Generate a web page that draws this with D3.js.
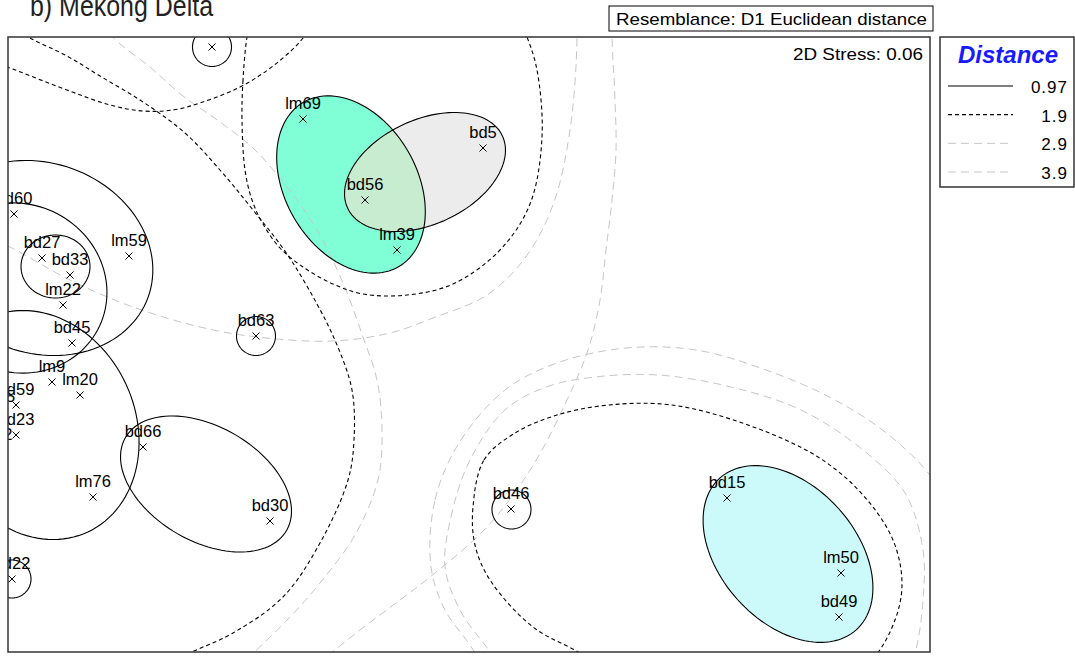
<!DOCTYPE html>
<html>
<head>
<meta charset="utf-8">
<script src="https://cdn.jsdelivr.net/npm/d3@7"></script>
<style>
  body { margin: 0; background: #fff; }
  text { font-family: "Liberation Sans", Arial, sans-serif; }
</style>
</head>
<body>
<div id="chart"></div>
<script>
// nMDS of samples, with cluster contours at 4 distance levels

// samples (MDS coordinates)
const pointNames = ["lm47","lm69","bd5","bd56","lm39","bd60","bd27","bd33","lm59","lm22","bd45","bd63",
  "lm9","lm20","bd59","lm5","bd23","bd32","bd66","lm76","bd30","bd22","bd46","bd15","lm50","bd49"];
const pointX = [-2.57,-1.66,0.14,-1.04,-0.72,-4.55,-4.27,-3.99,-3.40,-4.06,-3.97,-2.13,
  -4.17,-3.89,-4.53,-4.67,-4.53,-4.75,-3.26,-3.76,-1.99,-4.57,0.42,2.58,3.72,3.70];
const pointY = [2.98,2.26,1.97,1.45,0.95,1.31,0.87,0.70,0.89,0.40,0.02,0.09,
  -0.37,-0.50,-0.60,-0.67,-0.90,-1.05,-1.02,-1.52,-1.76,-2.34,-1.64,-1.53,-2.28,-2.72];

// clusters at the 0.97 level, as ellipses
const ellNames = ["c47","g69","g5","c27","e59","e60","e76","e66","c63","c46","c22","e15"];
const ellCx  = [-2.57,-1.18,-0.44,-4.135,-4.29,-4.51,-4.31,-2.63,-2.13,0.425,-4.57,3.19];
const ellCy  = [2.98,1.605,1.73,0.785,0.87,0.57,-0.80,-1.39,0.09,-1.645,-2.34,-2.09];
const ellA   = [0.195,0.95,0.854,0.345,1.15,0.90,0.97,0.93,0.195,0.195,0.19,1.02];
const ellB   = [0.195,0.66,0.522,0.315,0.95,0.84,1.18,0.573,0.195,0.195,0.19,0.68];
const ellRot = [0,-60,25,0,-20,-25,25,-30,0,0,0,-48];

// larger contours (1.9, 2.9, 3.9 levels)
const dashTopLeft = [[-5.09,2.95],[-4.59,2.77],[-4.02,2.55],[-3.59,2.40],[-3.26,2.34],[-2.96,2.35],
  [-2.69,2.42],[-2.29,2.58],[-1.96,2.79],[-1.66,3.07],[-1.44,3.45]];
const dashLeft = [[-4.69,3.25],[-4.39,3.07],[-4.02,2.89],[-3.69,2.69],[-3.26,2.43],[-2.84,2.12],
  [-2.49,1.75],[-2.16,1.35],[-1.82,0.91],[-1.52,0.41],[-1.32,0.00],[-1.17,-0.45],[-1.15,-0.95],
  [-1.21,-1.35],[-1.49,-1.98],[-1.86,-2.52],[-2.36,-2.88],[-2.79,-3.08],[-3.29,-3.35]];
const dashUpper = [[-2.22,3.08],[-2.26,2.65],[-2.27,2.25],[-2.24,1.75],[-2.17,1.45],[-2.06,1.21],
  [-1.89,0.97],[-1.66,0.78],[-1.36,0.61],[-1.06,0.51],[-0.62,0.50],[-0.16,0.61],[0.31,0.95],
  [0.61,1.41],[0.73,2.08],[0.68,2.75],[0.58,3.08],[0.41,3.45],[-0.69,3.75],[-1.79,3.65],[-2.14,3.45]];
const dashLower = [[0.04,-1.62],[0.15,-1.15],[0.46,-0.88],[0.88,-0.70],[1.40,-0.60],[2.03,-0.60],
  [2.79,-0.80],[3.49,-1.12],[3.94,-1.50],[4.24,-1.95],[4.33,-2.38],[4.26,-2.75],[4.03,-3.15],
  [3.51,-3.55],[2.51,-3.70],[1.51,-3.35],[1.11,-3.08],[0.64,-2.82],[0.21,-2.35],[0.06,-2.00]];
const grayLeft = [[-3.79,3.45],[-3.56,3.08],[-3.19,2.78],[-2.86,2.49],[-2.49,2.23],[-2.16,1.97],
  [-1.82,1.58],[-1.52,1.15],[-1.26,0.62],[-1.06,0.08],[-0.92,-0.35],[-0.87,-0.85],[-0.91,-1.35],
  [-1.14,-1.90],[-1.49,-2.38],[-1.79,-2.72],[-2.16,-3.08],[-2.49,-3.35]];
const grayUpper = [[-5.09,1.20],[-4.61,0.99],[-3.99,0.65],[-3.36,0.38],[-2.69,0.18],[-2.12,0.08],
  [-1.36,0.04],[-0.79,0.12],[-0.36,0.27],[0.18,0.50],[0.56,0.87],[0.84,1.40],[1.01,2.15],
  [1.08,3.08],[1.06,3.45]];
const grayUpperOuter = [[1.43,3.45],[1.43,3.08],[1.46,2.45],[1.47,1.95],[1.43,1.45],[1.37,0.95],
  [1.31,0.45],[1.19,-0.05],[0.98,-0.55],[0.63,-1.22],[0.18,-1.82],[-0.34,-2.28],[-0.69,-2.55],
  [-1.09,-2.85],[-1.49,-3.17]];
const grayLower = [[-0.24,-2.22],[-0.18,-1.72],[0.01,-1.15],[0.36,-0.65],[0.77,-0.42],[1.26,-0.32],
  [1.89,-0.30],[2.62,-0.42],[3.32,-0.65],[3.94,-1.05],[4.36,-1.48],[4.54,-2.05],[4.54,-2.55],
  [4.47,-3.05],[4.31,-3.55],[2.31,-4.25],[0.71,-3.65],[0.16,-3.00],[-0.09,-2.65]];
const grayLowerOuter = [[-0.38,-2.22],[-0.34,-1.55],[-0.10,-0.98],[0.36,-0.45],[0.88,-0.18],
  [1.57,-0.03],[2.27,-0.05],[2.97,-0.25],[3.66,-0.55],[4.26,-0.95],[4.71,-1.45],[5.11,-2.55],
  [4.91,-3.75],[2.31,-4.65],[0.51,-3.75],[0.01,-3.00],[-0.24,-2.65]];

const distLevels = ["0.97","1.9","2.9","3.9"];

const width = 1075, height = 656,
    plot = ({ left: 8, top: 37, right: 930, bottom: 652 });

const svg = d3.select("#chart")
  .append("svg")
  .attr("width", width)
  .attr("height", height);

const x = d3.scaleLinear().domain([-4.61, 4.61]).range([plot.left, plot.right]);
const y = d3.scaleLinear().domain([-3.07, 3.08]).range([plot.bottom, plot.top]);

const styles = {
  "0.97": { stroke: "#000", dash: null, w: 1.1 },
  "1.9":  { stroke: "#000", dash: "4,3", w: 1.1 },
  "2.9":  { stroke: "#c6c6c6", dash: "8,5", w: 1 },
  "3.9":  { stroke: "#c6c6c6", dash: "8,5", w: 1 }
};
const fills = { g69: "#80ffd6", g5: "#ececec", e15: "#ccfafa" };

const defs = svg.append("defs");
defs.append("clipPath").attr("id", "plotclip")
  .append("rect")
  .attr("x", plot.left).attr("y", plot.top)
  .attr("width", plot.right - plot.left).attr("height", plot.bottom - plot.top);

const g = svg.append("g").attr("clip-path", "url(#plotclip)");

// ellipse outline points in data units
function ellipsePts(i) {
  const r = ellRot[i] * Math.PI / 180;
  return d3.range(0, 360, 3).map(deg => {
    const t = deg * Math.PI / 180;
    const u = ellA[i] * Math.cos(t), v = ellB[i] * Math.sin(t);
    return [ellCx[i] + u * Math.cos(r) - v * Math.sin(r),
            ellCy[i] + u * Math.sin(r) + v * Math.cos(r)];
  });
}

const closedLine = d3.line().x(d => x(d[0])).y(d => y(d[1])).curve(d3.curveLinearClosed);
const smoothClosed = d3.line().x(d => x(d[0])).y(d => y(d[1])).curve(d3.curveCatmullRomClosed);
const smoothOpen = d3.line().x(d => x(d[0])).y(d => y(d[1])).curve(d3.curveCatmullRom);

function drawContour(d, level, closed) {
  const s = styles[level];
  g.append("path")
    .attr("d", closed ? smoothClosed(d) : smoothOpen(d))
    .attr("fill", "none")
    .attr("stroke", s.stroke)
    .attr("stroke-width", s.w)
    .attr("stroke-dasharray", s.dash);
}

// fills first
ellNames.forEach((n, i) => {
  if (fills[n]) {
    g.append("path").attr("d", closedLine(ellipsePts(i))).attr("fill", fills[n]);
  }
});
// overlap of the two upper groups
const iGreen = ellNames.indexOf("g69"), iGray = ellNames.indexOf("g5");
defs.append("clipPath").attr("id", "greenclip")
  .append("path").attr("d", closedLine(ellipsePts(iGreen)));
g.append("path")
  .attr("d", closedLine(ellipsePts(iGray)))
  .attr("fill", "#c7ecd0")
  .attr("clip-path", "url(#greenclip)");

// gray contours
drawContour(grayLeft, "2.9", false);
drawContour(grayUpper, "2.9", false);
drawContour(grayUpperOuter, "3.9", false);
drawContour(grayLower, "2.9", true);
drawContour(grayLowerOuter, "3.9", true);

// dashed contours
drawContour(dashTopLeft, "1.9", false);
drawContour(dashLeft, "1.9", false);
drawContour(dashUpper, "1.9", true);
drawContour(dashLower, "1.9", true);

// solid outlines
ellNames.forEach((n, i) => {
  g.append("path")
    .attr("d", closedLine(ellipsePts(i)))
    .attr("fill", "none")
    .attr("stroke", "#000")
    .attr("stroke-width", styles["0.97"].w);
});

// sample marks and labels
const pts = pointNames.map((n, i) => ({ name: n, x: pointX[i], y: pointY[i] }));
const mark = g.selectAll("g.pt").data(pts).join("g")
  .attr("class", "pt")
  .attr("transform", d => `translate(${x(d.x)},${y(d.y)})`);
mark.append("path")
  .attr("d", "M-3.5,-3.5L3.5,3.5M-3.5,3.5L3.5,-3.5")
  .attr("stroke", "#000")
  .attr("stroke-width", 1);
mark.append("text")
  .attr("y", -10)
  .attr("text-anchor", "middle")
  .attr("font-size", 16.5)
  .text(d => d.name);

// frame
svg.append("rect")
  .attr("x", plot.left).attr("y", plot.top)
  .attr("width", plot.right - plot.left).attr("height", plot.bottom - plot.top)
  .attr("fill", "none").attr("stroke", "#333").attr("stroke-width", 1.5);

svg.append("text")
  .attr("x", 923).attr("y", 60)
  .attr("text-anchor", "end")
  .attr("font-size", 17)
  .attr("textLength", 130)
  .attr("lengthAdjust", "spacingAndGlyphs")
  .text("2D Stress: 0.06");

// resemblance box
svg.append("rect")
  .attr("x", 609).attr("y", 6).attr("width", 324).attr("height", 25)
  .attr("fill", "#fff").attr("stroke", "#000").attr("stroke-width", 1);
svg.append("text")
  .attr("x", 616).attr("y", 25)
  .attr("font-size", 17)
  .attr("textLength", 311)
  .attr("lengthAdjust", "spacingAndGlyphs")
  .text("Resemblance: D1 Euclidean distance");

// title (cut off at the top in the source)
svg.append("text")
  .attr("x", 30).attr("y", 16)
  .attr("font-family", "Carlito, 'Open Sans', sans-serif")
  .attr("font-size", 30)
  .attr("textLength", 183)
  .attr("lengthAdjust", "spacingAndGlyphs")
  .attr("fill", "#222")
  .text("b) Mekong Delta");

// legend
const legend = svg.append("g");
legend.append("rect")
  .attr("x", 940).attr("y", 37).attr("width", 134).attr("height", 150)
  .attr("fill", "#fff").attr("stroke", "#333").attr("stroke-width", 1.5);
legend.append("text")
  .attr("x", 1008).attr("y", 63)
  .attr("text-anchor", "middle")
  .attr("font-size", 24).attr("font-weight", "bold").attr("font-style", "italic")
  .attr("fill", "#1a1aff")
  .text("Distance");
const ly = d3.scalePoint().domain(distLevels).range([86, 172]);
distLevels.forEach(lv => {
  const s = styles[lv];
  legend.append("line")
    .attr("x1", 948).attr("x2", 1013)
    .attr("y1", ly(lv)).attr("y2", ly(lv))
    .attr("stroke", s.stroke).attr("stroke-width", s.w)
    .attr("stroke-dasharray", s.dash);
  legend.append("text")
    .attr("x", 1068).attr("y", ly(lv) + 7)
    .attr("text-anchor", "end")
    .attr("font-size", 17)
    .attr("letter-spacing", 1)
    .text(lv);
});
</script>
</body>
</html>
